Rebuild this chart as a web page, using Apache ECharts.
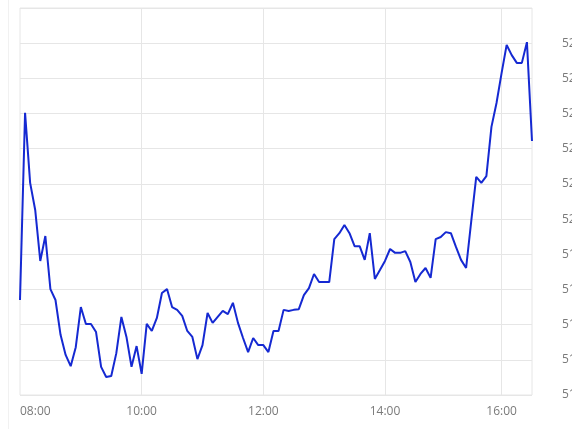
<!DOCTYPE html>
<html>
<head>
<meta charset="utf-8">
<script src="https://cdn.jsdelivr.net/npm/echarts@6/dist/echarts.min.js"></script>
<style>
html,body{margin:0;padding:0;background:#fff;}
#chart{width:572px;height:429px;}
</style>
</head>
<body>
<div id="chart"></div>
<script>
var categories = [
"08:00","08:05","08:10","08:15","08:20","08:25","08:30","08:35","08:40","08:45","08:50","08:55",
"09:00","09:05","09:10","09:15","09:20","09:25","09:30","09:35","09:40","09:45","09:50","09:55",
"10:00","10:05","10:10","10:15","10:20","10:25","10:30","10:35","10:40","10:45","10:50","10:55",
"11:00","11:05","11:10","11:15","11:20","11:25","11:30","11:35","11:40","11:45","11:50","11:55",
"12:00","12:05","12:10","12:15","12:20","12:25","12:30","12:35","12:40","12:45","12:50","12:55",
"13:00","13:05","13:10","13:15","13:20","13:25","13:30","13:35","13:40","13:45","13:50","13:55",
"14:00","14:05","14:10","14:15","14:20","14:25","14:30","14:35","14:40","14:45","14:50","14:55",
"15:00","15:05","15:10","15:20","15:25","15:30","15:35","15:40","15:45","15:50","15:55",
"16:00","16:05","16:10","16:15","16:20","16:25","16:30"
];
var priceValues = [
5177.0,5230.2,5210.3,5202.6,5188.1,5195.2,5180.1,5177.0,5167.1,5161.4,5158.2,5163.6,
5175.0,5170.2,5170.2,5167.9,5158.0,5155.1,5155.4,5161.9,5172.2,5166.5,5158.0,5163.9,
5156.0,5170.2,5168.2,5171.9,5179.0,5180.1,5175.0,5174.2,5172.5,5168.2,5166.5,5160.2,
5164.2,5173.3,5170.5,5172.2,5173.9,5173.0,5176.2,5170.5,5166.2,5162.2,5166.2,5164.2,
5164.2,5162.2,5168.2,5168.2,5174.2,5173.9,5174.2,5174.4,5178.4,5180.4,5184.4,5182.1,
5182.1,5182.1,5194.3,5196.0,5198.3,5196.0,5192.3,5192.3,5188.4,5196.0,5183.0,5185.5,
5188.1,5191.5,5190.4,5190.4,5190.9,5187.8,5182.1,5184.4,5186.1,5183.3,5194.3,5194.9,
5196.3,5196.0,5192.1,5188.4,5186.1,5199.2,5212.0,5210.3,5212.2,5226.2,5233.0,
5241.5,5249.5,5246.6,5244.4,5244.4,5250.3,5222.2
];
var xTickLabels = ["08:00","10:00","12:00","14:00","16:00"];
var yMin = 5150, yMax = 5260, yStep = 10;

var chart = echarts.init(document.getElementById('chart'), null, {renderer:'canvas'});
var gridColor = '#e6e6e6';
var labelColor = '#7a7a7a';
function isTick(idx){ return xTickLabels.indexOf(categories[idx]) >= 0; }
chart.setOption({
  animation:false,
  backgroundColor:'#ffffff',
  graphic:[{type:'line', shape:{x1:8.5,y1:0,x2:8.5,y2:429}, style:{stroke:'#f1f1f1', lineWidth:1}, silent:true}],
  grid:{left:20,right:40,top:8,bottom:34,show:true,borderColor:gridColor,borderWidth:1,backgroundColor:'transparent',
        containLabel:false, outerBoundsMode:'none'},
  xAxis:{
    type:'category',
    data:categories,
    boundaryGap:false,
    axisLine:{show:false},
    axisTick:{show:false},
    axisLabel:{
      interval:function(i){return isTick(i);},
      color:labelColor, fontSize:12, fontFamily:'Open Sans', margin:11,
      alignMinLabel:'left', hideOverlap:false
    },
    splitLine:{show:true, interval:function(i){return isTick(i) && i>0;}, lineStyle:{color:gridColor,width:1}}
  },
  yAxis:{
    type:'value',
    position:'right',
    min:yMin, max:yMax, interval:yStep,
    axisLine:{show:false},
    axisTick:{show:false},
    axisLabel:{color:labelColor, fontSize:12, fontFamily:'Open Sans', margin:30, showMaxLabel:false,
      formatter:function(v){return String(v);}},
    splitLine:{show:true, lineStyle:{color:gridColor,width:1}}
  },
  series:[{
    type:'line',
    data:priceValues,
    showSymbol:false,
    symbol:'none',
    lineStyle:{color:'#1529d2', width:2},
    itemStyle:{color:'#1529d2'}
  }]
});
</script>
</body>
</html>
